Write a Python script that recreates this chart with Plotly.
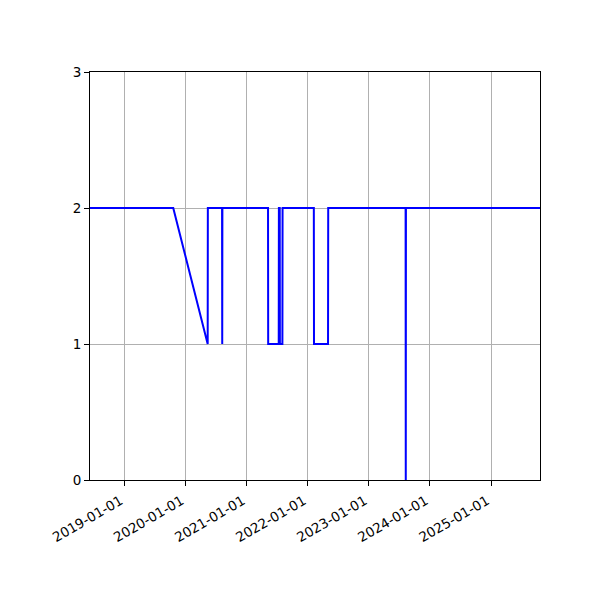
import plotly.graph_objects as go

dates = [
    "2018-06-01", "2019-10-19", "2020-05-12", "2020-05-13", "2020-08-06",
    "2020-08-07", "2020-08-08", "2021-05-08", "2021-05-09", "2021-07-11",
    "2021-07-12", "2021-07-17", "2021-07-18", "2021-08-02", "2021-08-03",
    "2022-02-06", "2022-02-07", "2022-05-02", "2022-05-03", "2023-08-09",
    "2023-08-10", "2023-08-11", "2025-12-31",
]
values = [
    2, 2, 1, 2, 2,
    1, 2, 2, 1, 1,
    2, 2, 1, 1, 2,
    2, 1, 1, 2, 2,
    0, 2, 2,
]
x_ticks = ["2019-01-01", "2020-01-01", "2021-01-01", "2022-01-01",
           "2023-01-01", "2024-01-01", "2025-01-01"]
y_ticks = [0, 1, 2, 3]

fig = go.Figure()
fig.add_trace(go.Scatter(x=dates, y=values, mode="lines",
                         line=dict(color="#0000ff", width=2),
                         showlegend=False))

axis_common = dict(showline=True, linecolor="black", linewidth=1, mirror=True,
                   ticks="outside", ticklen=5, tickwidth=1, tickcolor="black",
                   showgrid=True, gridcolor="#b0b0b0", gridwidth=1,
                   zeroline=False,
                   tickfont=dict(family="DejaVu Sans", size=13.5, color="black"))

fig.update_layout(
    width=600, height=600,
    margin=dict(l=82, r=68, t=64, b=128),
    paper_bgcolor="white", plot_bgcolor="white",
    xaxis=dict(range=["2018-06-08", "2025-10-21"], tickvals=x_ticks,
               ticktext=x_ticks, tickangle=-30, ticklabelshift=-4,
               ticklabelstandoff=2, **axis_common),
    yaxis=dict(range=[0, 3], tickvals=y_ticks, **axis_common),
)

fig.write_html("out.html")
